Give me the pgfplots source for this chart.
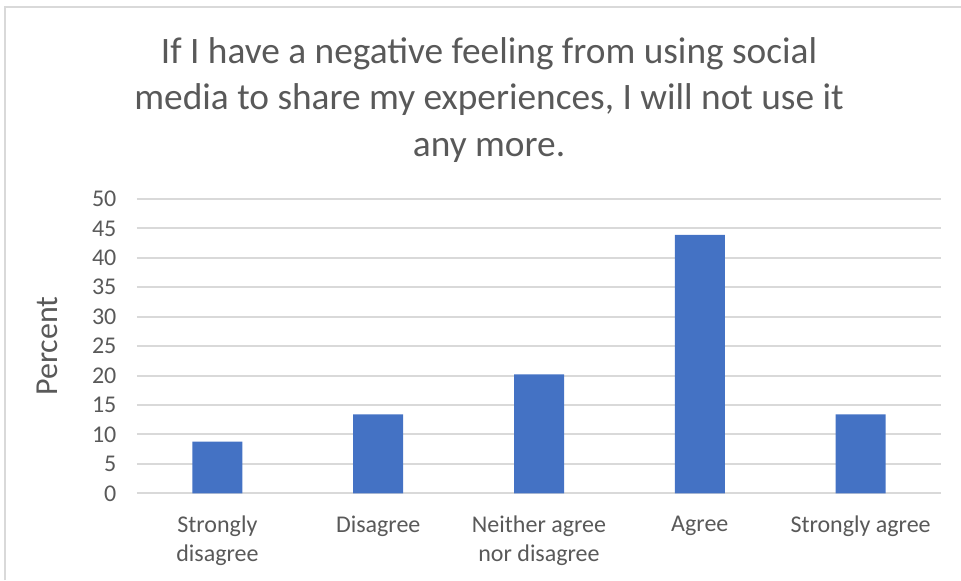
\documentclass[border=0pt]{standalone}
\usepackage{pgfplots}
\pgfplotsset{compat=1.18}
\usepackage{fontspec}
\setmainfont{Carlito}
\definecolor{barblue}{HTML}{4472C4}
\definecolor{gridgray}{HTML}{D9D9D9}
\definecolor{txtgray}{HTML}{595959}
\begin{document}
\begin{tikzpicture}
% 1 px of the reference = 0.375pt
\useasboundingbox (0pt,0pt) rectangle (360.375pt,-217.5pt);
\draw[gridgray, line width=0.75pt] (1.9pt,-217.5pt) |- (360.375pt,-2.6pt);
\node[align=center, font=\fontsize{14}{17.6}\selectfont, text=txtgray]
  at (183.4pt,-37.5pt) {If I have a negative feeling from using social\\media to share my experiences, I will not use it\\any more.};
\begin{axis}[
  at={(51.375pt,-185pt)}, anchor=south west,
  scale only axis,
  width=301.5pt, height=110.4pt,
  xmin=-0.5, xmax=4.5,
  ymin=0, ymax=50,
  ytick={0,5,...,50},
  xtick=data,
  xticklabels={{Strongly\\disagree},{Disagree},{Neither agree\\nor disagree},{Agree},{Strongly agree}},
  xticklabel style={align=center, font=\fontsize{9}{10.9}\selectfont, text=txtgray, yshift=-5pt},
  yticklabel style={font=\fontsize{9}{10.9}\selectfont, text=txtgray, xshift=-4.2pt},
  /pgf/number format/assume math mode=true,
  major tick length=0pt,
  axis line style={draw=none},
  ymajorgrids,
  grid style={gridgray, line width=0.75pt},
  ylabel={Percent},
  ylabel style={at={(axis description cs:-0.112,0.5)}, anchor=center, font=\fontsize{12}{14}\selectfont, text=txtgray},
  clip=false,
]
\addplot[ybar, bar width=18.75pt, fill=barblue, draw=none] coordinates {
  (0,8.8) (1,13.4) (2,20.2) (3,43.9) (4,13.4)
};
\end{axis}
\end{tikzpicture}
\end{document}
